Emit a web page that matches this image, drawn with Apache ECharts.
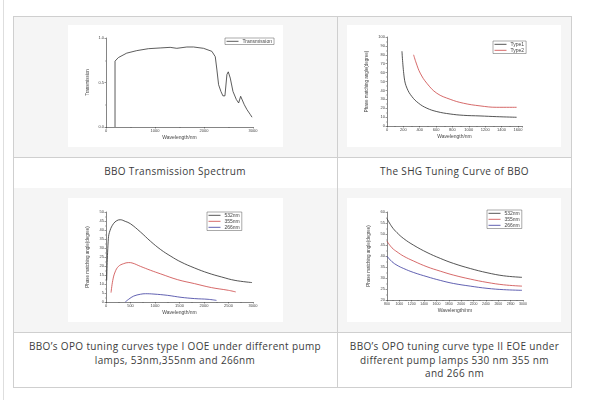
<!DOCTYPE html>
<html><head><meta charset="utf-8">
<script src="https://cdn.jsdelivr.net/npm/echarts@6/dist/echarts.min.js"></script>
<style>
html,body{margin:0;padding:0;background:#fff;width:600px;height:400px;overflow:hidden;}
#page{position:relative;width:600px;height:400px;}
.box{position:absolute;}
.cap{position:absolute;text-align:center;font-family:'Open Sans',sans-serif;font-size:10px;letter-spacing:0.35px;color:#3c3c3c;line-height:13.5px;white-space:nowrap;}
#chart{position:absolute;left:0;top:0;width:600px;height:400px;}
</style></head>
<body><div id="page">
<div class="box" style="left:3px;top:0;width:1px;height:400px;background:#dedede"></div>
<div class="box" style="left:13px;top:16px;width:559px;height:141px;background:#f5f5f5"></div>
<div class="box" style="left:13px;top:188px;width:559px;height:144px;background:#f5f5f5"></div>
<div class="box" style="left:68px;top:25px;width:215px;height:122px;background:#fff"></div>
<div class="box" style="left:347px;top:25px;width:214px;height:122px;background:#fff"></div>
<div class="box" style="left:68px;top:198px;width:215px;height:124px;background:#fff"></div>
<div class="box" style="left:347px;top:198px;width:214px;height:124px;background:#fff"></div>
<div class="box" style="left:13px;top:16px;width:557px;height:370px;border:1px solid #cfcfcf"></div>
<div class="box" style="left:337px;top:16px;width:1px;height:372px;background:#cfcfcf"></div>
<div class="box" style="left:13px;top:157px;width:559px;height:1px;background:#cfcfcf"></div>
<div class="box" style="left:13px;top:332px;width:559px;height:1px;background:#cfcfcf"></div>
<div class="cap" style="left:13px;width:324px;top:165px">BBO Transmission Spectrum</div>
<div class="cap" style="left:337px;width:235px;top:165px">The SHG Tuning Curve of BBO</div>
<div class="cap" style="left:13px;width:324px;top:340px">BBO’s OPO tuning curves type I OOE under different pump<br>lamps, 53nm,355nm and 266nm</div>
<div class="cap" style="left:337px;width:235px;top:340px">BBO’s OPO tuning curve type II EOE under<br>different pump lamps 530 nm 355 nm<br>and 266 nm</div>
<div id="chart"></div>
</div>
<script>
// Chart 1: transmission
const transWl  = [184,184,190,252,423,627,866,1105,1309,1445,1650,1786,1991,2161,2230,2264,2298,2345,2386,2427,2468,2495,2536,2591,2659,2707,2748,2775,2823,2877,2945,2980];
const transVal = [0,0.74,0.76,0.78,0.83,0.858,0.88,0.888,0.895,0.884,0.899,0.899,0.884,0.85,0.79,0.64,0.475,0.40,0.35,0.35,0.59,0.62,0.55,0.40,0.31,0.27,0.345,0.34,0.25,0.195,0.14,0.11];
// Chart 2: SHG tuning
const shgWl1   = [183,211,244,305,386,487,609,772,934,1137,1340,1584];
const shgType1 = [84,54,42.5,33,25.6,20,16.2,13.5,12,11.3,10.5,9.8];
const shgWl2   = [325,357,406,487,609,772,934,1137,1340,1584];
const shgType2 = [80,70.7,59.4,48,36.8,30,25.6,22.6,21,21];
// Chart 3: OPO type I
const opo1Wl532 = [14,48,83,152,221,290,393,497,703,910,1117,1324,1531,1807,2083,2359,2634,2980];
const opo1A532  = [12,35.2,39.8,43.5,45.2,45.7,44.8,43.5,38.9,33.7,29.1,25.4,22.2,18.9,16.1,13.9,12,10.8];
const opo1Wl355 = [103,138,186,255,359,462,531,703,910,1117,1462,1807,2152,2497,2648];
const opo1A355  = [5.2,12,16.7,19.8,21.3,21.9,21.7,19.8,17.6,15.6,12.4,10.2,8,6.5,5.6];
const opo1Wl266 = [393,462,566,703,807,979,1255,1531,1807,2083,2255];
const opo1A266  = [0,1.5,3.3,4.3,4.6,4.4,3.7,2.6,1.9,1.5,0.9];
// Chart 4: OPO type II
const opo2Wl   = [800,881,962,1070,1231,1447,1663,1878,2148,2418,2687,2984];
const opo2A532 = [57,53.2,50.6,47.9,44.9,41.6,38.9,36.6,34.3,32.4,31,30.3];
const opo2A355 = [46.7,43.7,41.9,39.9,37.7,35.1,33.1,31.3,29.5,28,26.9,26.3];
const opo2A266 = [39.9,37.4,35.8,34.3,32.5,30.6,28.9,27.5,26.3,25.3,24.7,24.4];

const xName = 'Wavelength/nm';
const yName1 = 'Transmission';
const yNamePM = 'Phase matching angle(degree)';

const BLACK = '#2a2a2a', RED = '#cc4444', BLUE = '#3a3a9e';
const FONT = 'Liberation Sans';
const TXT = '#444';
const zip = (a, b) => a.map((v, i) => [v, b[i]]);
const lab = (extra) => Object.assign({fontSize: 4, color: TXT, margin: 2, fontFamily: FONT, formatter: v => String(v)}, extra || {});

function xAx(g, min, max, interval, labelExtra) {
  return {
    type: 'value', gridIndex: g, min, max, interval,
    name: xName, nameLocation: 'middle', nameGap: 8,
    nameTextStyle: {fontSize: 5, color: TXT, fontFamily: FONT},
    axisLine: {lineStyle: {color: '#333', width: 0.6}},
    axisTick: {length: 1.5, lineStyle: {color: '#333', width: 0.5}},
    minorTick: {show: true, splitNumber: 2, length: 1, lineStyle: {color: '#333', width: 0.4}},
    splitLine: {show: false},
    axisLabel: lab(labelExtra)
  };
}
function yAx(g, min, max, interval, name, gap, labelExtra) {
  return {
    type: 'value', gridIndex: g, min, max, interval,
    name, nameLocation: 'middle', nameGap: gap,
    nameTextStyle: {fontSize: 4.5, color: TXT, fontFamily: FONT},
    axisLine: {show: true, lineStyle: {color: '#333', width: 0.6}},
    axisTick: {show: true, length: 1.5, lineStyle: {color: '#333', width: 0.5}},
    minorTick: {show: true, splitNumber: 2, length: 1, lineStyle: {color: '#333', width: 0.4}},
    splitLine: {show: false},
    axisLabel: lab(labelExtra)
  };
}
function lg(names, left, top) {
  return {
    data: names, left, top, orient: 'vertical', icon: 'rect',
    itemWidth: 12, itemHeight: 0.8, itemGap: 0.5, padding: [0.5, 2, 0.5, 1.5],
    borderColor: '#555', borderWidth: 0.5, borderRadius: 0,
    textStyle: {fontSize: 5, lineHeight: 5.5, color: TXT, fontFamily: FONT, padding: [0, 0, 0, -1]}
  };
}
function ln(name, xi, data, color, smooth) {
  return {type: 'line', name, xAxisIndex: xi, yAxisIndex: xi, data, symbol: 'none',
    smooth: smooth, lineStyle: {color, width: 0.8}, itemStyle: {color}};
}

const chart = echarts.init(document.getElementById('chart'), null, {renderer: 'canvas'});
chart.setOption({
  animation: false,
  backgroundColor: 'transparent',
  grid: [
    {left: 106, top: 38, width: 147, height: 89},
    {left: 387, top: 37, width: 135, height: 89},
    {left: 106, top: 212, width: 147, height: 90},
    {left: 387, top: 212, width: 136, height: 88}
  ],
  xAxis: [
    xAx(0, 0, 3000, 1000),
    xAx(1, 0, 1650, 200, {showMaxLabel: false}),
    xAx(2, 0, 3000, 500),
    xAx(3, 800, 3000, 200, {fontSize: 3.5})
  ],
  yAxis: [
    yAx(0, 0, 1, 0.5, yName1, 16, {formatter: v => v.toFixed(1)}),
    yAx(1, 0, 100, 10, yNamePM, 18),
    yAx(2, 0, 50, 5, yNamePM, 16),
    yAx(3, 20, 60, 5, yNamePM, 16)
  ],
  legend: [
    lg(['Transmission'], 225, 38),
    lg(['Type1', 'Type2'], 493, 41),
    lg(['532nm', '355nm', '266nm'], 207, 212),
    lg(['532nm', '355nm', '266nm'], 487, 210)
  ],
  series: [
    ln('Transmission', 0, zip(transWl, transVal), '#333', false),
    ln('Type1', 1, zip(shgWl1, shgType1), BLACK, 0.4),
    ln('Type2', 1, zip(shgWl2, shgType2), RED, 0.4),
    ln('532nm', 2, zip(opo1Wl532, opo1A532), BLACK, 0.4),
    ln('355nm', 2, zip(opo1Wl355, opo1A355), RED, 0.4),
    ln('266nm', 2, zip(opo1Wl266, opo1A266), BLUE, 0.4),
    ln('532nm', 3, zip(opo2Wl, opo2A532), BLACK, 0.4),
    ln('355nm', 3, zip(opo2Wl, opo2A355), RED, 0.4),
    ln('266nm', 3, zip(opo2Wl, opo2A266), BLUE, 0.4)
  ]
});
</script>
</body></html>
